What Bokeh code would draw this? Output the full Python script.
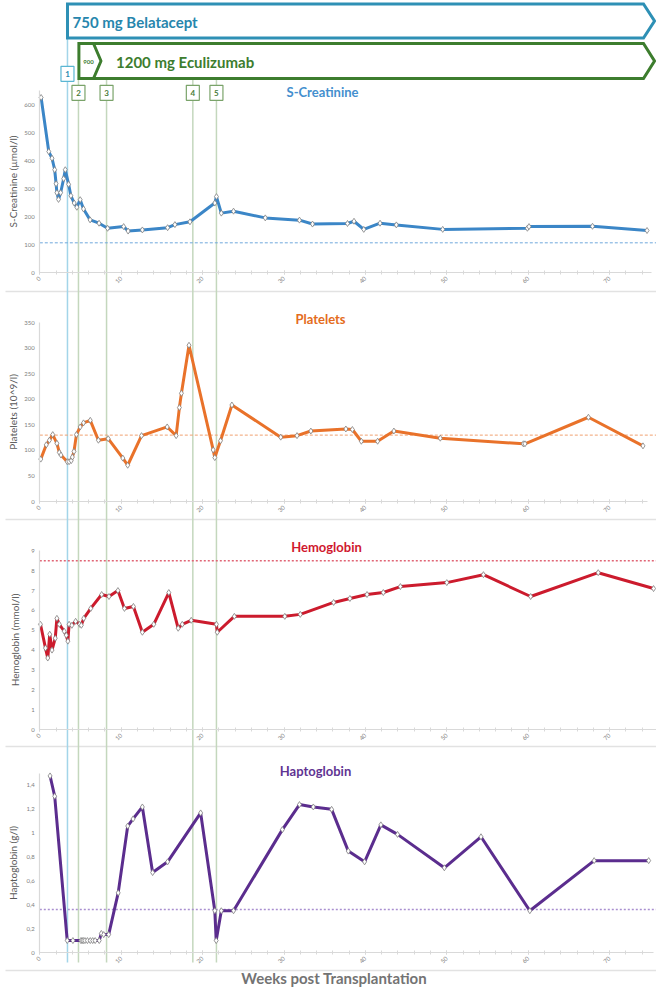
import math
from bokeh.plotting import figure
from bokeh.models import Range1d, LinearAxis, FixedTicker, CustomJSTickFormatter
from bokeh.core.properties import value
from bokeh.embed import file_html
from bokeh.resources import INLINE

# ---------------- data ----------------
interv_weeks = [3.4, 4.75, 8.2, 18.8, 21.7]
interv_labels = ["1", "2", "3", "4", "5"]

creat_weeks = [0.16, 1.1, 1.5, 1.83, 2.0, 2.1, 2.3, 2.56, 2.93, 3.13, 3.54, 3.82, 4.23, 4.55,
               4.96, 5.37, 6.18, 7.28, 8.33, 10.3, 10.85, 12.6, 15.7, 16.6, 18.45, 21.5, 21.7,
               22.3, 23.8, 27.7, 31.9, 33.5, 37.8, 38.6, 39.8, 41.8, 43.8, 49.5, 59.9, 60.1,
               67.9, 74.6]
creat_vals = [625, 432, 408, 367, 317, 285, 261, 285, 335, 367, 315, 274, 248, 233,
              260, 227, 188, 176, 158, 164, 148, 152, 160, 171, 181, 248, 271,
              212, 219, 195, 187, 173, 175, 183, 154, 176, 170, 154, 158, 164,
              165, 150]
creat_ref = 106
creat_ticks = [0, 100, 200, 300, 400, 500, 600]

plt_weeks = [0.12, 0.8, 1.18, 1.59, 2.1, 2.4, 2.6, 3.37, 3.6, 3.86, 4.0, 4.2, 4.5, 4.96, 5.37,
             6.2, 7.2, 8.4, 10.2, 10.8, 12.5, 15.65, 16.75, 17.15, 17.4, 18.33, 21.3, 21.5,
             22.2, 23.6, 29.6, 31.6, 33.3, 37.6, 38.4, 39.5, 41.5, 43.5, 49.2, 59.4, 59.6,
             67.4, 74.1]
plt_vals = [83, 111, 120, 131, 114, 96, 91, 78, 78, 80, 87, 98, 131, 146, 154,
            159, 120, 123, 85, 71, 129, 146, 129, 184, 212, 306, 101, 86,
            119, 189, 126, 129, 138, 142, 141, 118, 118, 138, 124, 113, 113,
            165, 109]
plt_ref = 130
plt_ticks = [0, 50, 100, 150, 200, 250, 300, 350]

hb_weeks = [0.08, 0.7, 0.98, 1.22, 1.5, 1.9, 2.1, 2.4, 3.0, 3.25, 3.45, 3.6, 3.94, 4.4, 4.9,
            5.1, 5.4, 6.26, 7.6, 8.5, 9.6, 10.4, 11.5, 12.6, 14.0, 15.85, 17.0, 17.5, 18.6,
            21.7, 21.8, 23.9, 30.1, 32.0, 36.1, 38.1, 40.2, 42.2, 44.3, 50.0, 54.5, 60.3,
            68.6, 75.4]
hb_vals = [5.3, 4.1, 3.6, 4.8, 4.0, 4.6, 5.6, 5.3, 4.95, 4.75, 4.45, 5.3, 5.25, 5.45, 5.3,
           5.25, 5.6, 6.1, 6.8, 6.7, 7.0, 6.1, 6.2, 4.9, 5.3, 6.9, 5.1, 5.3, 5.5,
           5.3, 4.9, 5.7, 5.7, 5.8, 6.4, 6.6, 6.8, 6.9, 7.2, 7.4, 7.8, 6.7,
           7.9, 7.1]
hb_ref = 8.5
hb_ticks = [0, 1, 2, 3, 4, 5, 6, 7, 8, 9]

hp_weeks = [1.26, 1.83, 3.37, 4.07, 5.05, 5.2, 5.35, 5.55, 5.85, 6.2, 6.5, 6.8, 7.3, 7.56,
            7.85, 8.46, 9.63, 10.8, 11.46, 12.6, 13.86, 15.7, 19.76, 21.5, 21.67, 22.3, 23.8,
            29.8, 31.9, 33.6, 35.85, 37.9, 39.9, 41.9, 43.95, 49.7, 54.2, 60.2, 68.1, 74.8]
hp_vals = [1.48, 1.31, 0.1, 0.1, 0.1, 0.1, 0.1, 0.1, 0.1, 0.1, 0.1, 0.1, 0.1, 0.16,
           0.15, 0.15, 0.5, 1.06, 1.12, 1.22, 0.67, 0.76, 1.17, 0.35, 0.1, 0.35, 0.35,
           1.03, 1.24, 1.22, 1.20, 0.85, 0.76, 1.07, 0.99, 0.71, 0.97, 0.35, 0.77, 0.77]
hp_ref = 0.36
hp_ticks = [0, 0.2, 0.4, 0.6, 0.8, 1.0, 1.2, 1.4]

x_ticks = [0, 10, 20, 30, 40, 50, 60, 70]
x_minor = list(range(0, 76, 2))

# ---------------- layout ----------------
W, H = 656, 987
X0 = 39.3     # pixel x of week 0
PXW = 8.14    # pixels per week
FONT = "Lato"


def wk(px):
    return (px - X0) / PXW


p = figure(width=W, height=H, output_backend="svg", toolbar_location=None,
           x_range=Range1d(wk(0), wk(W)), y_range=Range1d(H, 0),
           x_axis_location=None, y_axis_location=None, min_border=0)
p.grid.visible = False
p.outline_line_color = None
p.background_fill_color = "white"
p.border_fill_color = "white"
p.title.visible = False

panels = [
    dict(name="creat", weeks=creat_weeks, vals=creat_vals, ref=creat_ref, ticks=creat_ticks,
         bottom=272.0, ppu=0.28, ytop=650, xend=75.1, label="S-Creatinine (µmol/l)",
         standoff=2, color="#3b86c7", ref_color="#6fa8dc", ref_dash="3 2", ref_w=1.0,
         title="S-Creatinine", tcolor="#448fce", tx=322, ty=91),
    dict(name="plt", weeks=plt_weeks, vals=plt_vals, ref=plt_ref, ticks=plt_ticks,
         bottom=501.0, ppu=0.5106, ytop=350, xend=74.7, label="Platelets (10^9/l)",
         standoff=2, color="#e9722a", ref_color="#f0a070", ref_dash="3 2", ref_w=1.0,
         title="Platelets", tcolor="#e46c1c", tx=320, ty=318),
    dict(name="hb", weeks=hb_weeks, vals=hb_vals, ref=hb_ref, ticks=hb_ticks,
         bottom=729.0, ppu=19.85, ytop=9, xend=75.9, label="Hemoglobin (mmol/l)",
         standoff=7, color="#cc1b2d", ref_color="#e06575", ref_dash="2 2", ref_w=1.5,
         title="Hemoglobin", tcolor="#d0182e", tx=326, ty=546),
    dict(name="hp", weeks=hp_weeks, vals=hp_vals, ref=hp_ref, ticks=hp_ticks,
         bottom=952.0, ppu=119.3, ytop=1.5, xend=75.4, label="Haptoglobin (g/l)",
         standoff=4, color="#5b2d8e", ref_color="#a98fd0", ref_dash="2 2", ref_w=1.5,
         title="Haptoglobin", tcolor="#5f3492", tx=315, ty=770),
]

extra = {}
for pn in panels:
    extra[pn["name"]] = Range1d((pn["bottom"] - H) / pn["ppu"], pn["bottom"] / pn["ppu"])
p.extra_y_ranges = extra

# panel separators
sep_y = [291, 519, 746, 970]
p.segment(x0=[wk(5)] * 4, x1=[wk(656)] * 4, y0=sep_y, y1=sep_y,
          line_color="#e2e2e2", line_width=1.5)

# intervention vertical lines
line_cols = ["#a3d5e9"] + ["#c4d7bd"] * 4
line_tops = [38] + [79] * 4
p.segment(x0=interv_weeks, x1=interv_weeks, y0=line_tops, y1=[962] * 5,
          line_color=line_cols, line_width=1.5)

hp_fmt = CustomJSTickFormatter(code="return (Math.round(tick*10)/10).toString().replace('.', ',');")

for pn in panels:
    nm = pn["name"]
    # reference line
    p.line([0, wk(656)], [pn["ref"], pn["ref"]], y_range_name=nm, line_color=pn["ref_color"],
           line_dash=pn["ref_dash"], line_width=pn["ref_w"])
    # axes
    yax = LinearAxis(y_range_name=nm, fixed_location=0, bounds=(0, pn["ytop"]),
                     ticker=FixedTicker(ticks=pn["ticks"]), axis_label=pn["label"],
                     axis_line_color="#d9d9d9", axis_line_width=1.2,
                     major_tick_in=0, major_tick_out=0, minor_tick_in=0, minor_tick_out=0,
                     major_label_text_font=FONT, major_label_text_font_size="6px",
                     major_label_text_color="#808080", major_label_standoff=5,
                     axis_label_text_font=FONT, axis_label_text_font_size="10px",
                     axis_label_text_font_style="normal", axis_label_text_color="#595959",
                     axis_label_standoff=pn["standoff"])
    if nm == "hp":
        yax.formatter = hp_fmt
    p.add_layout(yax, "left")
    xax = LinearAxis(y_range_name=nm, fixed_location=0, bounds=(0, pn["xend"]),
                     ticker=FixedTicker(ticks=x_ticks, minor_ticks=x_minor),
                     axis_line_color="#d9d9d9", axis_line_width=1.2,
                     major_tick_line_color="#d9d9d9", major_tick_in=2, major_tick_out=2,
                     minor_tick_line_color="#d9d9d9", minor_tick_in=2, minor_tick_out=2,
                     major_label_text_font=FONT, major_label_text_font_size="6px",
                     major_label_text_color="#808080", major_label_standoff=3,
                     major_label_orientation=math.pi / 4)
    p.add_layout(xax, "below")
    # series
    p.line(pn["weeks"], pn["vals"], y_range_name=nm, line_color=pn["color"], line_width=3,
           line_join="round")
    p.scatter(pn["weeks"], pn["vals"], y_range_name=nm, marker="diamond", size=6,
              fill_color="white", line_color="#7f7f7f", line_width=0.8)
    # panel title
    p.text(x=[wk(pn["tx"])], y=[pn["ty"]], text=[pn["title"]], text_font=value(FONT),
           text_font_style="bold", text_font_size="13px", text_color=pn["tcolor"],
           text_align="center", text_baseline="middle")

# treatment banners
bel_x = [wk(67), wk(643), wk(654), wk(643), wk(67)]
bel_y = [3.5, 3.5, 20.5, 37.5, 37.5]
p.patch(bel_x, bel_y, fill_color="white", line_color="#2e90b5", line_width=3, line_join="miter")
p.text(x=[wk(72)], y=[21], text=["750 mg Belatacept"], text_font=value(FONT),
       text_font_style="bold", text_font_size="15px", text_color="#2786ad",
       text_align="left", text_baseline="middle")

ecu_x = [wk(78.4), wk(643), wk(654), wk(643), wk(78.4)]
ecu_y = [43, 43, 60.5, 78, 78]
p.patch(ecu_x, ecu_y, fill_color="white", line_color="#3d7d2e", line_width=3, line_join="miter")
p.line([wk(93), wk(100.5), wk(93)], [43, 60.5, 78], line_color="#3d7d2e", line_width=3)
p.text(x=[wk(88)], y=[61], text=["900"], text_font=value(FONT), text_font_style="bold",
       text_font_size="6px", text_color="#3d7d2e", text_align="center", text_baseline="middle")
p.text(x=[wk(115.5)], y=[61], text=["1200 mg Eculizumab"], text_font=value(FONT),
       text_font_style="bold", text_font_size="15px", text_color="#3d7d2e",
       text_align="left", text_baseline="middle")

# intervention boxes
box_y = [73.3] + [92.3] * 4
box_line = ["#5ab6d3"] + ["#7aa36a"] * 4
box_text = ["#2b8ab0"] + ["#4a7d3a"] * 4
p.rect(x=interv_weeks, y=box_y, width=13, height=15, width_units="screen",
       height_units="screen", fill_color="white", line_color=box_line, line_width=1.2)
p.text(x=interv_weeks, y=box_y, text=interv_labels, text_font=value(FONT),
       text_font_style="bold", text_font_size="8px", text_color=box_text,
       text_align="center", text_baseline="middle")

# x axis title
p.text(x=[wk(333.7)], y=[977.5], text=["Weeks post Transplantation"], text_font=value(FONT),
       text_font_style="bold", text_font_size="15px", text_color="#737373",
       text_align="center", text_baseline="middle")

open("out.html", "w").write(file_html(p, INLINE))
